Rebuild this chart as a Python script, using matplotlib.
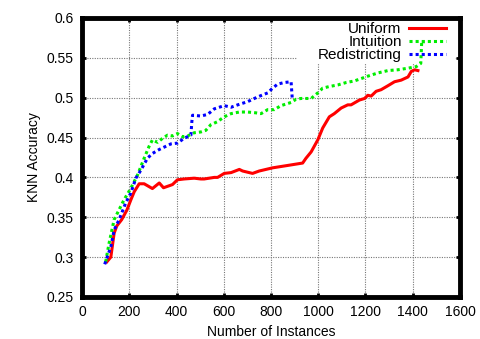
import matplotlib
matplotlib.use("Agg")
import matplotlib.pyplot as plt
from matplotlib.patches import Rectangle

plt.rcParams['font.family'] = ['Liberation Sans', 'DejaVu Sans']

uniform_x = [105, 122, 136, 147, 168, 190, 207, 221, 242, 263, 298, 327, 345, 383, 404, 432, 475, 503, 517,
             560, 574, 602, 631, 666, 680, 722, 750, 807, 871, 913, 934, 948, 970, 998, 1019, 1047, 1068,
             1097, 1125, 1139, 1174, 1196, 1210, 1224, 1245, 1266, 1295, 1323, 1351, 1380, 1394, 1408, 1422]
uniform_y = [0.294, 0.300, 0.330, 0.339, 0.347, 0.359, 0.372, 0.382, 0.392, 0.392, 0.386, 0.393, 0.387,
             0.391, 0.397, 0.398, 0.399, 0.398, 0.398, 0.400, 0.400, 0.405, 0.406, 0.410, 0.408, 0.405,
             0.408, 0.412, 0.415, 0.417, 0.418, 0.424, 0.432, 0.447, 0.462, 0.476, 0.480, 0.487, 0.491,
             0.491, 0.497, 0.499, 0.503, 0.502, 0.508, 0.510, 0.515, 0.520, 0.522, 0.526, 0.533, 0.535, 0.534]

intuition_x = [100, 115, 136, 178, 206, 235, 263, 284, 298, 320, 341, 362, 383, 404, 426, 447, 475, 503,
               524, 545, 574, 602, 631, 666, 701, 736, 758, 786, 814, 842, 885, 906, 927, 970, 998, 1019,
               1047, 1083, 1118, 1153, 1182, 1210, 1252, 1295, 1337, 1380, 1415, 1434, 1438, 1450]
intuition_y = [0.294, 0.318, 0.347, 0.372, 0.386, 0.403, 0.424, 0.439, 0.447, 0.444, 0.449, 0.453, 0.452,
               0.455, 0.451, 0.452, 0.456, 0.457, 0.459, 0.466, 0.470, 0.476, 0.480, 0.482, 0.482, 0.481,
               0.480, 0.485, 0.485, 0.490, 0.494, 0.498, 0.499, 0.499, 0.506, 0.512, 0.514, 0.516, 0.519,
               0.521, 0.524, 0.527, 0.531, 0.534, 0.535, 0.537, 0.539, 0.543, 0.570, 0.570]

redis_x = [96, 122, 136, 157, 185, 206, 228, 249, 277, 298, 327, 355, 376, 404, 432, 461, 465, 468, 503,
           532, 560, 602, 631, 659, 701, 744, 786, 807, 828, 856, 885, 890]
redis_y = [0.291, 0.313, 0.334, 0.347, 0.368, 0.380, 0.399, 0.409, 0.424, 0.430, 0.435, 0.439, 0.442,
           0.443, 0.449, 0.453, 0.470, 0.478, 0.477, 0.479, 0.486, 0.490, 0.488, 0.491, 0.495, 0.501,
           0.506, 0.512, 0.517, 0.519, 0.520, 0.499]

xticks = [0, 200, 400, 600, 800, 1000, 1200, 1400, 1600]
yticks = [0.25, 0.3, 0.35, 0.4, 0.45, 0.5, 0.55, 0.6]
ytick_labels = ['0.25', '0.3', '0.35', '0.4', '0.45', '0.5', '0.55', '0.6']

fig = plt.figure(figsize=(4.81, 3.39), dpi=100)
ax = fig.add_axes([0.1705, 0.124, 0.7858, 0.823])

ax.plot(uniform_x, uniform_y, color='#ff0000', lw=2.2, label='Uniform', zorder=3)
ax.plot(intuition_x, intuition_y, color='#00ee00', lw=2.2, linestyle=(0, (1, 1)), label='Intuition', zorder=3)
ax.plot(redis_x, redis_y, color='#0000ff', lw=2.2, linestyle=(0, (1, 1)), label='Redistricting', zorder=3)

ax.set_xlim(0, 1600)
ax.set_ylim(0.25, 0.6)
ax.set_xticks(xticks)
ax.set_yticks(yticks)
ax.set_yticklabels(ytick_labels)
ax.grid(True, color='#777777', linestyle=(0, (1, 1.2)), lw=0.8, zorder=0)
ax.set_axisbelow(True)

# key area blanks the grid, as in the original
ax.add_patch(Rectangle((0.569, 0.839), 0.418, 0.161, transform=ax.transAxes,
                       facecolor='white', edgecolor='none', zorder=1.5))

for s in ax.spines.values():
    s.set_linewidth(3.5)
    s.set_zorder(5)
ax.tick_params(direction='in', length=3, width=2, top=True, right=True, labelsize=10, pad=6)

ax.set_xlabel('Number of Instances', fontsize=10)
ax.set_ylabel('KNN Accuracy', fontsize=10)

leg = ax.legend(loc='upper right', markerfirst=False, frameon=False, fontsize=11,
                handlelength=2.4, bbox_to_anchor=(0.963, 0.985), borderaxespad=0.0,
                labelspacing=-0.06, handletextpad=0.5, borderpad=0.0)
for col in leg._legend_handle_box.get_children():
    col.align = 'right'
leg.set_zorder(4)

fig.savefig('out.png', dpi=100)
